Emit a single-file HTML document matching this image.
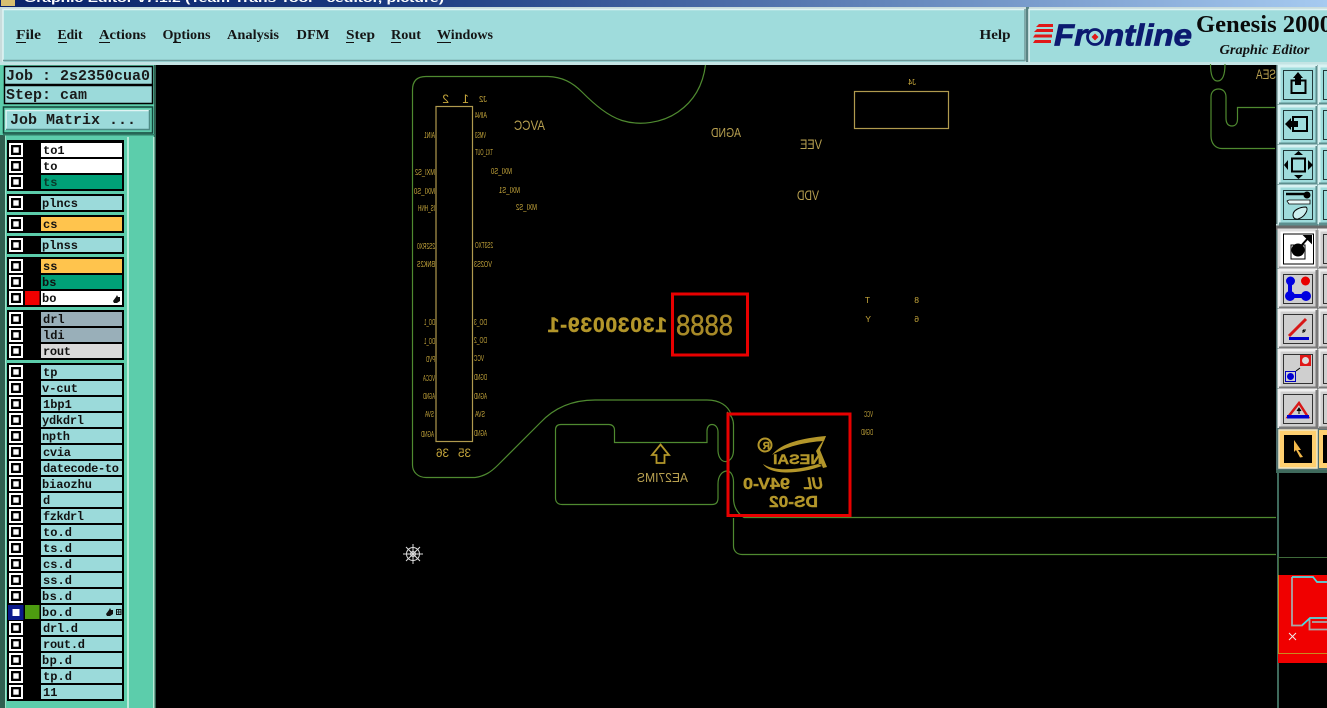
<!DOCTYPE html>
<html><head><meta charset="utf-8"><title>Genesis 2000 Graphic Editor</title>
<style>
html,body{margin:0;padding:0;background:#000;width:1327px;height:708px;overflow:hidden}
svg{display:block;position:absolute;left:0;top:0}
#mirror{transform:scaleX(-1);transform-origin:663.5px 354px}
#pn{position:absolute;left:546px;top:316px;width:121px;height:20px;line-height:20px;white-space:nowrap;font-family:"Liberation Sans",sans-serif;font-weight:bold;font-size:21px;letter-spacing:.8px;color:#b3962a;-webkit-text-stroke:.4px #b3962a;transform:scaleX(-1)}
.menu{font-family:"Liberation Serif",serif;font-weight:bold;font-size:14px;fill:#151515}
.job{font-family:"Liberation Mono",monospace;font-weight:bold;font-size:15px;fill:#1a1a1a}
.ly{font-family:"Liberation Mono",monospace;font-weight:bold;font-size:12px;fill:#111}
.s text{font-family:"Liberation Sans",sans-serif;font-size:8.5px;fill:#c8a83c}
.m{font-family:"Liberation Sans",sans-serif;font-size:14px;fill:#b8a050}
.gold{fill:#b3962a;font-family:"Liberation Sans",sans-serif;font-weight:bold;stroke:#b3962a;stroke-width:.4}
.ol{fill:none;stroke:#4f8a30;stroke-width:1.2}
</style></head><body>
<svg width="1327" height="708" viewBox="0 0 1327 708" xmlns="http://www.w3.org/2000/svg">
<defs>
<linearGradient id="tb" x1="0" x2="1" y1="0" y2="0"><stop offset="0" stop-color="#0a246a"/><stop offset=".3" stop-color="#1a3a80"/><stop offset="1" stop-color="#a6caf0"/></linearGradient>
<g id="cb"><rect width="14" height="14" fill="#fff"/><rect x="2" y="2" width="10" height="10" fill="#000"/><rect x="4.300" y="4.300" width="5.400" height="5.400" fill="#fff"/></g>
<g id="btn"><rect width="38" height="38" fill="#9fdcdc"/><path d="M0 38V0H38" fill="none" stroke="#d8f2f2" stroke-width="3"/><path d="M38 0V38H0" fill="none" stroke="#5d8f8f" stroke-width="3"/><rect x="4.500" y="4.500" width="29" height="29" fill="none" stroke="#22393a"/></g>
<g id="gbtn"><rect width="38" height="38" fill="#cfcfcf"/><path d="M0 38V0H38" fill="none" stroke="#f0f0f0" stroke-width="3"/><path d="M38 0V38H0" fill="none" stroke="#7a7a7a" stroke-width="3"/><rect x="4.500" y="4.500" width="29" height="29" fill="none" stroke="#333"/></g>
<path id="hand" d="M0 6 L3 2 L4 0 L5 2 L7 2 L7 6 L4 8 L1 8Z" fill="#111"/>
</defs>

<rect width="1327" height="708" fill="#000"/>

<!-- title bar -->
<rect width="1327" height="7" fill="url(#tb)"/>
<rect x="1" y="0" width="14" height="6" fill="#d8c070"/>
<text x="24" y="2" font-family="Liberation Sans,sans-serif" font-weight="bold" font-size="11" fill="#fff" textLength="420" lengthAdjust="spacingAndGlyphs">Graphic Editor v7.1.2 (Team Trans Tool - ceditor, picture)</text>

<!-- menu -->
<rect x="0" y="7" width="1327" height="56" fill="#c9dcdc"/>
<rect x="3" y="9" width="1022" height="53" fill="#9fdcdc"/>
<path d="M3 62V9.500H1025" fill="none" stroke="#e0f4f4" stroke-width="1.500"/>
<path d="M1025 9V60.500H3" fill="none" stroke="#6f9a9a" stroke-width="1.500"/>
<rect x="1026" y="7" width="3" height="56" fill="#5a8484"/>
<rect x="1029" y="9" width="298" height="53" fill="#9fdcdc"/>
<path d="M1029 62V9.500H1327" fill="none" stroke="#e0f4f4" stroke-width="1.500"/>
<rect x="0" y="62" width="1327" height="3" fill="#c4e4e4"/>

<text class="menu" x="16" y="39" textLength="25" lengthAdjust="spacingAndGlyphs">File</text><rect x="16" y="42" width="10" height="1" fill="#111"/>
<text class="menu" x="57.500" y="39" textLength="25" lengthAdjust="spacingAndGlyphs">Edit</text><rect x="58" y="42" width="9" height="1" fill="#111"/>
<text class="menu" x="99" y="39" textLength="47" lengthAdjust="spacingAndGlyphs">Actions</text><rect x="99" y="42" width="11" height="1" fill="#111"/>
<text class="menu" x="162.500" y="39" textLength="48" lengthAdjust="spacingAndGlyphs">Options</text><rect x="173" y="42" width="8" height="1" fill="#111"/>
<text class="menu" x="227" y="39" textLength="52" lengthAdjust="spacingAndGlyphs">Analysis</text>
<text class="menu" x="296.500" y="39" textLength="33" lengthAdjust="spacingAndGlyphs">DFM</text>
<text class="menu" x="346" y="39" textLength="29" lengthAdjust="spacingAndGlyphs">Step</text><rect x="346" y="42" width="8" height="1" fill="#111"/>
<text class="menu" x="391" y="39" textLength="30" lengthAdjust="spacingAndGlyphs">Rout</text><rect x="391" y="42" width="10" height="1" fill="#111"/>
<text class="menu" x="437" y="39" textLength="56" lengthAdjust="spacingAndGlyphs">Windows</text><rect x="437" y="42" width="14" height="1" fill="#111"/>
<text class="menu" x="979.500" y="39" textLength="31" lengthAdjust="spacingAndGlyphs">Help</text>

<!-- logo -->
<g fill="#e01818"><path d="M1039 24H1053V27H1036Z"/><path d="M1037 29H1053V32H1034Z"/><path d="M1035 34.500H1052V37.500H1033Z"/><path d="M1035 40H1051V43H1033Z"/></g>
<text x="1054" y="45.500" font-family="Liberation Sans,sans-serif" font-weight="bold" font-style="italic" font-size="31" fill="#0c1a70" stroke="#0c1a70" stroke-width=".8" textLength="33" lengthAdjust="spacingAndGlyphs">Fr</text>
<circle cx="1095" cy="37" r="7.500" fill="none" stroke="#0c1a70" stroke-width="2.800"/>
<path d="M1095 33.500L1098.500 37L1095 40.500L1091.500 37Z" fill="#e01818"/>
<text x="1104" y="45.500" font-family="Liberation Sans,sans-serif" font-weight="bold" font-style="italic" font-size="31" fill="#0c1a70" stroke="#0c1a70" stroke-width=".8" textLength="88" lengthAdjust="spacingAndGlyphs">ntline</text>
<text x="1196" y="32" font-family="Liberation Serif,serif" font-size="24" font-weight="bold" fill="#0a0a0a" textLength="136" lengthAdjust="spacingAndGlyphs">Genesis 2000</text>
<text x="1219.500" y="54" font-family="Liberation Serif,serif" font-size="13.500" font-weight="bold" font-style="italic" fill="#111" textLength="90" lengthAdjust="spacingAndGlyphs">Graphic Editor</text>

<!-- left panel -->
<rect x="0" y="65" width="155" height="643" fill="#5ccdab"/>
<rect x="0" y="135" width="5" height="573" fill="#2f5f50"/>
<rect x="5" y="135" width="1" height="573" fill="#9fe0c8"/>
<rect x="154" y="65" width="2" height="643" fill="#2f5f50"/>
<rect x="4.500" y="66.500" width="148" height="18" fill="#9bdada" stroke="#000" stroke-width="1.500"/>
<text class="job" x="6" y="80" textLength="144">Job : 2s2350cua0</text>
<rect x="4.500" y="85.500" width="148" height="18" fill="#9bdada" stroke="#000" stroke-width="1.500"/>
<text class="job" x="6" y="99" textLength="81">Step: cam</text>
<rect x="3.500" y="107" width="149" height="26" fill="#5ccdab" stroke="#14453a" stroke-width="1.500"/>
<rect x="6" y="110" width="144" height="20" fill="#9bdada"/>
<path d="M6 130V110.500H150" fill="none" stroke="#e0f4f4" stroke-width="1.500"/>
<path d="M149.500 110V129.500H6" fill="none" stroke="#4d8a85" stroke-width="1.500"/>
<text class="job" x="10" y="124" textLength="126">Job Matrix ...</text>
<rect x="3" y="134" width="152" height="1.500" fill="#2f7a65"/>
<rect x="128" y="137" width="25" height="571" fill="#5ccdab"/>
<rect x="127" y="137" width="2" height="571" fill="#b5ecd8"/>
<rect x="153" y="137" width="1.500" height="571" fill="#b5ecd8"/>

<!-- layer groups -->
<g fill="#000">
<rect x="7" y="140" width="117" height="51"/>
<rect x="7" y="194" width="117" height="18"/>
<rect x="7" y="215" width="117" height="18"/>
<rect x="7" y="236" width="117" height="18"/>
<rect x="7" y="257" width="117" height="50"/>
<rect x="7" y="310" width="117" height="50"/>
<rect x="7" y="363" width="117" height="338"/>
</g>
<g fill="#9bdada">
<rect x="41" y="143" width="81" height="14" fill="#fff"/>
<rect x="41" y="159" width="81" height="14" fill="#fff"/>
<rect x="41" y="175" width="81" height="14" fill="#00a077"/>
<rect x="41" y="196" width="81" height="14"/>
<rect x="41" y="217" width="81" height="14" fill="#ffc44d"/>
<rect x="41" y="238" width="81" height="14"/>
<rect x="41" y="259" width="81" height="14" fill="#ffc44d"/>
<rect x="41" y="275" width="81" height="14" fill="#00a077"/>
<rect x="41" y="291" width="81" height="14" fill="#fff"/>
<rect x="41" y="312" width="81" height="14" fill="#99afb9"/>
<rect x="41" y="328" width="81" height="14" fill="#99afb9"/>
<rect x="41" y="344" width="81" height="14" fill="#d9d9d9"/>
<rect x="41" y="365" width="81" height="14"/><rect x="41" y="381" width="81" height="14"/><rect x="41" y="397" width="81" height="14"/><rect x="41" y="413" width="81" height="14"/><rect x="41" y="429" width="81" height="14"/><rect x="41" y="445" width="81" height="14"/><rect x="41" y="461" width="81" height="14"/><rect x="41" y="477" width="81" height="14"/><rect x="41" y="493" width="81" height="14"/><rect x="41" y="509" width="81" height="14"/><rect x="41" y="525" width="81" height="14"/><rect x="41" y="541" width="81" height="14"/><rect x="41" y="557" width="81" height="14"/><rect x="41" y="573" width="81" height="14"/><rect x="41" y="589" width="81" height="14"/><rect x="41" y="605" width="81" height="14"/><rect x="41" y="621" width="81" height="14"/><rect x="41" y="637" width="81" height="14"/><rect x="41" y="653" width="81" height="14"/><rect x="41" y="669" width="81" height="14"/><rect x="41" y="685" width="81" height="14"/>
</g>
<use href="#cb" x="9" y="143"/><use href="#cb" x="9" y="159"/><use href="#cb" x="9" y="175"/><use href="#cb" x="9" y="196"/><use href="#cb" x="9" y="217"/><use href="#cb" x="9" y="238"/><use href="#cb" x="9" y="259"/><use href="#cb" x="9" y="275"/><use href="#cb" x="9" y="291"/><use href="#cb" x="9" y="312"/><use href="#cb" x="9" y="328"/><use href="#cb" x="9" y="344"/><use href="#cb" x="9" y="365"/><use href="#cb" x="9" y="381"/><use href="#cb" x="9" y="397"/><use href="#cb" x="9" y="413"/><use href="#cb" x="9" y="429"/><use href="#cb" x="9" y="445"/><use href="#cb" x="9" y="461"/><use href="#cb" x="9" y="477"/><use href="#cb" x="9" y="493"/><use href="#cb" x="9" y="509"/><use href="#cb" x="9" y="525"/><use href="#cb" x="9" y="541"/><use href="#cb" x="9" y="557"/><use href="#cb" x="9" y="573"/><use href="#cb" x="9" y="589"/><use href="#cb" x="9" y="621"/><use href="#cb" x="9" y="637"/><use href="#cb" x="9" y="653"/><use href="#cb" x="9" y="669"/><use href="#cb" x="9" y="685"/>
<!-- active row bo.d -->
<rect x="8" y="605" width="15.500" height="15" fill="#0b1a8c"/><rect x="12.500" y="609" width="7" height="7" fill="#fff"/>
<rect x="25" y="291" width="14.500" height="14" fill="#f00000"/>
<rect x="25" y="605" width="14.500" height="14" fill="#4d9c10"/>
<use href="#hand" x="113" y="295"/>
<use href="#hand" x="106" y="608"/>
<rect x="116.500" y="609.500" width="4.500" height="5" fill="none" stroke="#111"/><path d="M118.700 609V615M116 612H121" stroke="#111" stroke-width="0.800"/>

<g class="ly">
<text x="43" y="154">to1</text><text x="43" y="170">to</text><text x="43" y="186" fill="#0a3a2a">ts</text>
<text x="42" y="207" textLength="36">plncs</text><text x="43" y="228">cs</text><text x="42" y="249" textLength="36">plnss</text>
<text x="43" y="270">ss</text><text x="42" y="286">bs</text><text x="42" y="302">bo</text>
<text x="43" y="323">drl</text><text x="43" y="339">ldi</text><text x="43" y="355" textLength="28">rout</text>
<text x="43" y="376">tp</text><text x="42" y="392" textLength="36">v-cut</text><text x="43" y="408">1bp1</text><text x="42" y="424" textLength="42">ydkdrl</text><text x="42" y="440" textLength="28">npth</text><text x="43" y="456" textLength="28">cvia</text><text x="43" y="472" textLength="76">datecode-to</text><text x="42" y="488" textLength="50">biaozhu</text><text x="43" y="504">d</text><text x="43" y="520" textLength="41">fzkdrl</text><text x="43" y="536" textLength="29">to.d</text><text x="43" y="552" textLength="29">ts.d</text><text x="43" y="568" textLength="29">cs.d</text><text x="43" y="584" textLength="29">ss.d</text><text x="42" y="600" textLength="30">bs.d</text><text x="42" y="616" textLength="30">bo.d</text><text x="43" y="632" textLength="35">drl.d</text><text x="43" y="648" textLength="42">rout.d</text><text x="42" y="664" textLength="30">bp.d</text><text x="43" y="680" textLength="29">tp.d</text><text x="43" y="696">11</text>
</g>

<!-- PCB outlines -->
<path class="ol" d="M412.500 90C412.500 81 417 76.500 426 76.500H548C562 77 572 82 582 92C595 105 608 116 622 120.500C640 126 662 123 678 112C694 101 703 85 705.500 65"/>
<path class="ol" d="M412.500 90V465C412.500 472 418 477.500 426 477.500H475C485 476 491 472 498 465L540 423C552 410 570 400 595 400H707C720 400 728 406 731 414"/>
<path class="ol" d="M727 412C731 415 733.500 419 733.500 425V450C733.500 456 731 461 726 461.500C722 462 718.500 458 718 451V432C718 427 715 424.500 712 424.500C709 424.500 707 427 707 431V442.500H614.500V430C614.500 426.500 612 424.500 609 424.500H561C557.500 424.500 555.500 426.500 555.500 430V498C555.500 502 558 504.500 562 504.500H712C716 504.500 718 502 718 498V484C718 476 722 471 727 471C731 471 733.500 476 733.500 482V498C733.500 506 737 513 744 517.500H1276"/>
<path class="ol" d="M733.500 518V546C733.500 551 737 554.500 742 554.500H1276"/>
<path class="ol" d="M1210.500 64C1210.500 76 1213 81 1217.500 81C1222 81 1225 76 1225 64"/>
<path class="ol" d="M1275 107.500H1237.500V119C1237.500 124 1235 126 1232 126C1228 126 1226 123 1226 118V97C1226 92 1223 89 1218.500 89C1214 89 1211 92 1211 97V136C1211 143 1215 148.500 1222 148.500H1275"/>

<!-- Silk / component -->
<g fill="none" stroke="#b09a4e" stroke-width="1.200">
<rect x="436" y="106.500" width="36.500" height="335"/>
<rect x="854.500" y="91.500" width="94" height="37"/>
</g>
<path d="M660.500 444.500L669 455H664.500V463H656.500V455H652Z" fill="none" stroke="#b3962a" stroke-width="1.800"/>

<!-- logo shapes in box -->
<circle cx="765" cy="445" r="6.500" fill="none" stroke="#b3962a" stroke-width="2"/>
<path d="M826 436C803 438 781 443 772 455C785 447 805 442 824 441Z" fill="#b3962a"/>
<path d="M826 436L820 450L827 467L823 468L816 451Z" fill="#b3962a"/>
<path d="M763 464C771 476 800 474 822 466L818 464C798 470 775 472 763 464Z" fill="#b3962a"/>

<!-- red boxes -->
<rect x="672.500" y="294" width="75" height="61" fill="none" stroke="#e80000" stroke-width="3"/>
<rect x="728" y="414" width="122" height="101.500" fill="none" stroke="#e80000" stroke-width="3"/>

<!-- snap marker -->
<g stroke="#dcdcdc" stroke-width="1" fill="none"><circle cx="413" cy="554" r="6.500"/><circle cx="413" cy="554" r="2.500"/><path d="M403 554H423M413 544V564M406 547L420 561M420 547L406 561"/></g>

<!-- right toolbar -->
<rect x="1276" y="65" width="51" height="405" fill="#4f6f6f"/>
<rect x="1276" y="470" width="51" height="3" fill="#3f6a5c"/>
<rect x="1277" y="470" width="2" height="238" fill="#3f6a5c"/>
<rect x="1276" y="224" width="51" height="6" fill="#6a6a6a"/>
<rect x="1276" y="224" width="51" height="1.500" fill="#b8d8d8"/>

<use href="#btn" x="1279" y="66"/><use href="#btn" x="1319" y="66"/>
<use href="#btn" x="1279" y="106"/><use href="#btn" x="1319" y="106"/>
<use href="#btn" x="1279" y="146"/><use href="#btn" x="1319" y="146"/>
<use href="#btn" x="1279" y="186"/><use href="#btn" x="1319" y="186"/>
<use href="#gbtn" x="1319" y="230"/><use href="#gbtn" x="1319" y="270"/><use href="#gbtn" x="1319" y="310"/><use href="#gbtn" x="1319" y="350"/><use href="#gbtn" x="1319" y="390"/>
<rect x="1279" y="230" width="38" height="38" fill="#fff"/><path d="M1279 268V230H1317" fill="none" stroke="#ddd" stroke-width="3"/><path d="M1317 230V268H1279" fill="none" stroke="#999" stroke-width="3"/>
<use href="#gbtn" x="1279" y="270"/><use href="#gbtn" x="1279" y="310"/><use href="#gbtn" x="1279" y="350"/><use href="#gbtn" x="1279" y="390"/>

<!-- icon 1 -->
<rect x="1291.500" y="80.500" width="14" height="12.500" fill="none" stroke="#000" stroke-width="2"/><path d="M1298 72L1303 78H1301V85H1295V78H1293Z" fill="#000"/>
<!-- icon 2 -->
<rect x="1293" y="117" width="14" height="14" fill="none" stroke="#000" stroke-width="2"/><path d="M1285 124L1291 118V121H1298V127H1291V130Z" fill="#000"/>
<!-- icon 3 -->
<rect x="1292" y="158.500" width="13" height="13" fill="none" stroke="#000" stroke-width="2"/><path d="M1298.500 151L1294 155H1303ZM1298.500 179L1294 175H1303ZM1284 165L1288 160V170ZM1313 165L1308 160V170Z" fill="#000"/>
<!-- icon 4 -->
<path d="M1286 194H1306" stroke="#000" stroke-width="2.500"/><circle cx="1307" cy="195" r="3.500" fill="#000"/>
<path d="M1287 201L1289 200H1310V204H1289Z" fill="#eafafa" stroke="#000" stroke-width="0.800"/>
<path d="M1293 215C1293 210 1300 207 1306 207C1309 209 1305 217 1298 219C1295 219.500 1293 218 1293 215Z" fill="#cceeee" stroke="#000"/>
<!-- icon 5 -->
<rect x="1283.500" y="234" width="30" height="30" fill="#fff" stroke="#000"/>
<rect x="1291" y="245" width="14" height="14" fill="#fff" stroke="#000"/><circle cx="1298" cy="250" r="6.500" fill="#000"/><path d="M1301 246L1309 237M1305 236H1311V242Z" stroke="#000" stroke-width="2" fill="#000"/>
<!-- icon 6 -->
<path d="M1290 278V296H1306" stroke="#0000e0" stroke-width="4" fill="none"/>
<circle cx="1290.500" cy="281" r="4.500" fill="#0000e0"/><circle cx="1290" cy="296" r="5" fill="#0000e0"/><circle cx="1306" cy="296" r="5" fill="#0000e0"/><circle cx="1305.500" cy="281" r="4.500" fill="#e80000"/>
<!-- icon 7 -->
<path d="M1289 336L1306 319" stroke="#d81818" stroke-width="3"/><rect x="1289" y="337" width="20" height="3" fill="#0000d0"/><path d="M1303 330L1305 332M1303 330V333M1303 330H1306" stroke="#000"/>
<!-- icon 8 -->
<rect x="1300" y="355" width="11" height="11" fill="#e01818"/><circle cx="1305.500" cy="360.500" r="3.500" fill="#ddd"/><rect x="1285.500" y="371.500" width="10" height="10" fill="none" stroke="#0000c0"/><circle cx="1290.500" cy="376.500" r="3.500" fill="#0000d0"/><path d="M1296 371L1300 368" stroke="#000"/>
<!-- icon 9 -->
<path d="M1288 417L1299 403L1308 417Z" fill="none" stroke="#d81818" stroke-width="2.500"/><rect x="1287" y="415" width="22" height="3.500" fill="#0000d0"/><path d="M1299 408V414M1297 411L1299 408L1301 411" stroke="#000"/>
<!-- icon 10 orange -->
<rect x="1279" y="430" width="38" height="38" fill="#ffd070"/><rect x="1279" y="430" width="38" height="38" fill="none" stroke="#f0e8c8" stroke-width="1.500"/><rect x="1284" y="435" width="28" height="28" fill="#000"/>
<path d="M1294 440L1301 450H1298L1303 457L1300 457.500L1296 450L1294 452Z" fill="#f2b84a"/>
<rect x="1319" y="430" width="8" height="38" fill="#ffd070"/><rect x="1323" y="435" width="4" height="28" fill="#000"/>

<!-- thumbnail -->
<rect x="1278" y="557" width="49" height="1" fill="#3f6a3a"/>
<rect x="1278" y="557" width="1" height="18" fill="#3f6a3a"/>
<rect x="1278" y="575" width="49" height="88" fill="#f00000"/>
<rect x="1278" y="653" width="49" height="1" fill="#c88a20"/>
<rect x="1278" y="575" width="1" height="78" fill="#c88a20"/>
<path d="M1292 577V625.500H1302L1310 618H1327M1292 577H1313L1317 582H1327M1309.500 618V629.500H1327M1312 622H1327" fill="none" stroke="#a8a8a8" stroke-width="1.800"/>
<path d="M1292 577H1313L1317 582H1327M1302 625L1310 618H1327" fill="none" stroke="#30e8f0" stroke-width="1.200"/>
<path d="M1289 633L1296 640M1296 633L1289 640" stroke="#eee" stroke-width="1"/>
</svg>

<!-- mirrored PCB text layer: x here = 1327 - right edge on screen -->
<svg id="mirror" width="1327" height="708" viewBox="0 0 1327 708" xmlns="http://www.w3.org/2000/svg">
<g class="s">
<text x="878" y="103" style="font-size:12px">2</text>
<text x="858" y="103" style="font-size:12px">1</text>
<text x="840" y="102" textLength="8" lengthAdjust="spacingAndGlyphs">J2</text>
<text x="840" y="118" textLength="12" lengthAdjust="spacingAndGlyphs">AIN4</text>
<text x="841" y="138" textLength="11" lengthAdjust="spacingAndGlyphs">VMS3</text>
<text x="834" y="155" textLength="18" lengthAdjust="spacingAndGlyphs">TX1_OUT</text>
<text x="815" y="174" textLength="21" lengthAdjust="spacingAndGlyphs">MXI_S0</text>
<text x="807" y="193" textLength="21" lengthAdjust="spacingAndGlyphs">MXI_S1</text>
<text x="790" y="210" textLength="21" lengthAdjust="spacingAndGlyphs">MXI_S2</text>
<text x="834" y="248" textLength="18" lengthAdjust="spacingAndGlyphs">2S3TXO</text>
<text x="835" y="267" textLength="18" lengthAdjust="spacingAndGlyphs">VO2S3</text>
<text x="892" y="138" textLength="11" lengthAdjust="spacingAndGlyphs">AIN1</text>
<text x="892" y="175" textLength="20" lengthAdjust="spacingAndGlyphs">MXI_S2</text>
<text x="892" y="194" textLength="21" lengthAdjust="spacingAndGlyphs">MXI_S0</text>
<text x="892" y="211" textLength="17" lengthAdjust="spacingAndGlyphs">IS_HNH</text>
<text x="892" y="249" textLength="18" lengthAdjust="spacingAndGlyphs">2S2RX0</text>
<text x="892" y="267" textLength="18" lengthAdjust="spacingAndGlyphs">BNK2S</text>
<text x="892" y="325" textLength="11" lengthAdjust="spacingAndGlyphs">DO_1</text>
<text x="892" y="344" textLength="11" lengthAdjust="spacingAndGlyphs">DO_1</text>
<text x="892" y="362" textLength="9" lengthAdjust="spacingAndGlyphs">PVD</text>
<text x="892" y="381" textLength="12" lengthAdjust="spacingAndGlyphs">VCCA</text>
<text x="892" y="399" textLength="12" lengthAdjust="spacingAndGlyphs">AGND</text>
<text x="893" y="417" textLength="9" lengthAdjust="spacingAndGlyphs">SVA</text>
<text x="893" y="437" textLength="13" lengthAdjust="spacingAndGlyphs">AGND</text>
<text x="840" y="325" textLength="13" lengthAdjust="spacingAndGlyphs">DO_3</text>
<text x="840" y="343" textLength="13" lengthAdjust="spacingAndGlyphs">DO_2</text>
<text x="843" y="361" textLength="10" lengthAdjust="spacingAndGlyphs">VCC</text>
<text x="840" y="380" textLength="13" lengthAdjust="spacingAndGlyphs">DGND</text>
<text x="840" y="399" textLength="13" lengthAdjust="spacingAndGlyphs">AGND</text>
<text x="842" y="417" textLength="10" lengthAdjust="spacingAndGlyphs">SVA</text>
<text x="840" y="436" textLength="13" lengthAdjust="spacingAndGlyphs">AGND</text>
<text x="411" y="85" textLength="8" lengthAdjust="spacingAndGlyphs">J4</text>
<text x="457" y="303">T</text>
<text x="408" y="303">8</text>
<text x="456" y="322">Y</text>
<text x="408" y="322">6</text>
<text x="454" y="417" textLength="9" lengthAdjust="spacingAndGlyphs">VCC</text>
<text x="454" y="435" textLength="12" lengthAdjust="spacingAndGlyphs">DGND</text>
<text x="878" y="457" style="font-size:12px" textLength="13" lengthAdjust="spacingAndGlyphs">36</text>
<text x="856" y="457" style="font-size:12px" textLength="13" lengthAdjust="spacingAndGlyphs">35</text>
</g>
<text class="m" x="782" y="130" textLength="31" lengthAdjust="spacingAndGlyphs">AVCC</text>
<text class="m" x="586" y="137" style="font-size:13px" textLength="30" lengthAdjust="spacingAndGlyphs">AGND</text>
<text class="m" x="505" y="149" textLength="22" lengthAdjust="spacingAndGlyphs">VEE</text>
<text class="m" x="508" y="200" textLength="22" lengthAdjust="spacingAndGlyphs">VDD</text>
<text class="m" x="639" y="482" style="font-size:13px" textLength="51" lengthAdjust="spacingAndGlyphs">AE27IMS</text>
<text class="m" x="51" y="79" textLength="20" lengthAdjust="spacingAndGlyphs">SEA</text>
<text x="594" y="335" font-family="Liberation Sans,sans-serif" font-size="29" fill="#a88a28" stroke="#a88a28" stroke-width=".5" textLength="57" lengthAdjust="spacingAndGlyphs">8888</text>
<text class="gold" x="557" y="449" font-size="10">R</text>
<text class="gold" x="505" y="464" font-size="14" textLength="49" lengthAdjust="spacingAndGlyphs">NESAI</text>
<text class="gold" x="537" y="489" font-size="16" textLength="47" lengthAdjust="spacingAndGlyphs">94V-0</text>
<text class="gold" x="504" y="489" font-size="17" font-style="italic" textLength="20" lengthAdjust="spacingAndGlyphs">UL</text>
<text class="gold" x="509" y="507" font-size="16" textLength="49" lengthAdjust="spacingAndGlyphs">DS-02</text>
</svg>
<div id="pn">13030039-1</div>
</body></html>
